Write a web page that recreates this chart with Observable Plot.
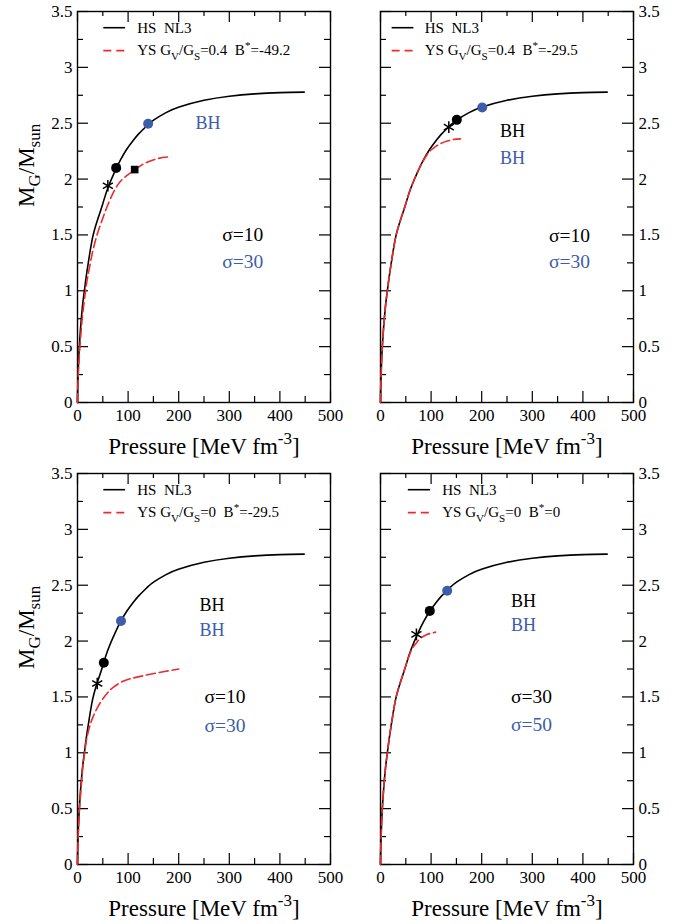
<!DOCTYPE html>
<html><head><meta charset="utf-8">
<script src="https://cdn.jsdelivr.net/npm/d3@7"></script>
<script src="https://cdn.jsdelivr.net/npm/@observablehq/plot@0.6"></script>
<style>
body{margin:0;background:#fff;}
#wrap{position:relative;width:689px;height:924px;overflow:hidden;background:#fff;}
#wrap svg{position:absolute;overflow:visible;background:transparent;font-family:"Liberation Serif","Times New Roman",serif !important;}
#wrap svg text{white-space:pre;font-family:"Liberation Serif","Times New Roman",serif !important;}
</style></head><body><div id="wrap"></div>
<script>
const BLUE = "#3d5ca9", RED = "#ee2b2b";
const xTicks = [0,100,200,300,400,500];
const xMinor = [50,150,250,350,450];
const yTicks = [0,0.5,1,1.5,2,2.5,3,3.5];
const yMinor = [0.25,0.75,1.25,1.75,2.25,2.75,3.25];
const xTickLabels = ["0","100","200","300","400","500"];
const yTickLabels = ["0","0.5","1","1.5","2","2.5","3","3.5"];
const xTitle = "Pressure [MeV fm^{-3}]";
const yTitle = "M_{G}/M_{sun}";
const hsLabel = "HS  NL3";

// HS NL3 (same in all panels)
const hsP = [0,0.5,1,2,3,5,7,10,13,17,22,30,40,50,60,75,86,97,110,120,132,140,151,175,201,250,300,350,400,448];
const hsM = [0,0.14,0.22,0.35,0.45,0.6,0.72,0.87,0.98,1.12,1.27,1.48,1.64,1.78,1.92,2.08,2.18,2.265,2.345,2.4,2.455,2.49,2.53,2.595,2.645,2.705,2.742,2.763,2.774,2.778];

// YS curves
const ysTL_P = [0,1,2,4,7,10,15,20,30,40,50,60,72,85,100,111,125,140,160,184];
const ysTL_M = [0,0.18,0.3,0.45,0.63,0.78,0.97,1.12,1.35,1.52,1.65,1.77,1.89,1.98,2.04,2.075,2.12,2.155,2.185,2.2];
const ysTR_P = [0,0.5,1,2,3,5,7,10,13,17,22,30,40,50,60,75,86,93,100,110,120,132,145,158];
const ysTR_M = [0,0.14,0.22,0.35,0.45,0.6,0.72,0.87,0.98,1.12,1.27,1.48,1.64,1.78,1.92,2.08,2.175,2.225,2.26,2.295,2.32,2.34,2.355,2.36];
const ysBL_P = [0,1,2,4,7,10,12.5,18,25.7,32,38.9,48.8,60,71.8,90,111,130,151,175,200];
const ysBL_M = [0,0.2,0.33,0.5,0.68,0.85,0.95,1.12,1.26,1.335,1.4,1.475,1.54,1.59,1.64,1.67,1.69,1.71,1.73,1.75];
const ysBR_P = [0,0.5,1,2,3,5,7,10,13,17,22,30,40,50,60,66,72,79,90,100,108.7];
const ysBR_M = [0,0.14,0.22,0.35,0.45,0.6,0.72,0.87,0.98,1.12,1.27,1.48,1.64,1.78,1.91,1.955,1.99,2.025,2.055,2.07,2.08];

const ysLabels = ["YS G_{V}/G_{S}=0.4  B^{*}=-49.2","YS G_{V}/G_{S}=0.4  B^{*}=-29.5","YS G_{V}/G_{S}=0  B^{*}=-29.5","YS G_{V}/G_{S}=0  B^{*}=0"];

// markers [P, M]
const starPts  = [[60,1.94],[135,2.465],[39,1.62],[71,2.06]];
const blackPts = [[76.4,2.10],[150.8,2.53],[52,1.806],[97.4,2.27]];
const bluePts  = [[139.6,2.495],[201,2.64],[86,2.18],[131.8,2.45]];
const squarePts = [[[113,2.085]],[],[],[]];

// annotations [P, M, text, isBlue]
const notes = [
  [[233,2.5,"BH",1],[286,1.5,"σ=10",0],[286,1.256,"σ=30",1]],
  [[236,2.43,"BH",0],[236,2.19,"BH",1],[333,1.49,"σ=10",0],[333,1.256,"σ=30",1]],
  [[241,2.32,"BH",0],[241,2.10,"BH",1],[251,1.50,"σ=10",0],[251,1.24,"σ=30",1]],
  [[258,2.36,"BH",0],[258,2.14,"BH",1],[258,1.50,"σ=30",0],[258,1.25,"σ=50",1]]
];
// legend sample extents [x1, x2, textX], rows at M
const legendX = [[52,95,118],[23,66,87.5],[52,95,118],[55,99,122]];
const legendY = [3.355, 3.15];

const zip = (P, M) => P.map((p, i) => ({P: p, M: M[i]}));
const hs = zip(hsP, hsM);
const ys = [zip(ysTL_P, ysTL_M), zip(ysTR_P, ysTR_M), zip(ysBL_P, ysBL_M), zip(ysBR_P, ysBR_M)];

const boxes = [
  // left, top, W, H, mL, mR, mT, mB, yAnchor
  [0, 0, 345, 460, 77, 15, 11, 58, "left"],
  [340, 0, 349, 460, 40, 56, 11, 58, "right"],
  [0, 460, 345, 462, 77, 15, 13, 58, "left"],
  [340, 460, 349, 462, 40, 56, 13, 58, "right"]
];
const FONT = "Liberation Serif, Times New Roman, serif";

function rich(svg) {
  svg.querySelectorAll("text").forEach(t => {
    t.setAttribute("font-family", FONT);
    const s = t.textContent;
    if (!/[_^]\{/.test(s)) return;
    const fs = parseFloat(getComputedStyle(t).fontSize);
    while (t.firstChild) t.removeChild(t.firstChild);
    const re = /([_^])\{([^}]*)\}/g;
    let last = 0, m, shift = 0;
    const add = (str, target) => {
      if (!str) return;
      const ts = document.createElementNS("http://www.w3.org/2000/svg", "tspan");
      const d = target - shift;
      if (d) ts.setAttribute("dy", d);
      if (target !== 0) ts.setAttribute("font-size", fs * 0.74);
      ts.textContent = str;
      t.appendChild(ts);
      shift = target;
    };
    while ((m = re.exec(s))) {
      add(s.slice(last, m.index), 0);
      add(m[2], m[1] === "_" ? fs * 0.3 : -fs * 0.42);
      last = re.lastIndex;
    }
    add(s.slice(last), 0);
  });
}

const wrap = document.getElementById("wrap");
boxes.forEach((b, i) => {
  const [left, top, W, H, mL, mR, mT, mB, yAnchor] = b;
  const fw = W - mL - mR, fh = H - mT - mB;
  const tk = {stroke: "black", strokeWidth: 1.2};
  const [lx1, lx2, ltx] = legendX[i];
  const marks = [
    Plot.tickX(xTicks, {x: d => d, insetTop: fh - 11, ...tk}),
    Plot.tickX(xTicks, {x: d => d, insetBottom: fh - 11, ...tk}),
    Plot.tickX(xMinor, {x: d => d, insetTop: fh - 6, ...tk}),
    Plot.tickX(xMinor, {x: d => d, insetBottom: fh - 5, ...tk}),
    Plot.tickY(yTicks, {y: d => d, insetRight: fw - 11, ...tk}),
    Plot.tickY(yTicks, {y: d => d, insetLeft: fw - 11, ...tk}),
    Plot.tickY(yMinor, {y: d => d, insetRight: fw - 6, ...tk}),
    Plot.tickY(yMinor, {y: d => d, insetLeft: fw - 6, ...tk}),
    Plot.frame({stroke: "black", strokeWidth: 1.4}),
    Plot.axisX(xTicks, {anchor: "bottom", tickSize: 0, tickPadding: 6, tickFormat: d => xTickLabels[xTicks.indexOf(d)], label: null, fill: "black", fontFamily: FONT}),
    Plot.axisY(yTicks, {anchor: yAnchor, tickSize: 0, tickPadding: 5, tickFormat: d => yTickLabels[yTicks.indexOf(d)], label: null, fill: "black", fontFamily: FONT}),
    Plot.line(hs, {x: "P", y: "M", stroke: "black", strokeWidth: 1.6, curve: "natural"}),
    Plot.line(ys[i], {x: "P", y: "M", stroke: RED, strokeWidth: 1.6, strokeDasharray: "9,4", curve: "natural"}),
    Plot.dot(squarePts[i], {x: d => d[0], y: d => d[1], symbol: "square", r: 4.3, fill: "black"}),
    Plot.dot([starPts[i]], {x: d => d[0], y: d => d[1], symbol: "asterisk", r: 5.5, stroke: "black", strokeWidth: 1.5}),
    Plot.dot([blackPts[i]], {x: d => d[0], y: d => d[1], r: 5, fill: "black"}),
    Plot.dot([bluePts[i]], {x: d => d[0], y: d => d[1], r: 5, fill: BLUE}),
    ...notes[i].map(n => Plot.text([n], {x: d => d[0], y: d => d[1], text: d => d[2], fill: n[3] ? BLUE : "black", textAnchor: "start", fontSize: n[2] === "BH" ? 18 : 19.5, fontFamily: FONT})),
    Plot.ruleY([legendY[0]], {x1: lx1, x2: lx2, stroke: "black", strokeWidth: 1.6}),
    Plot.ruleY([legendY[1]], {x1: lx1, x2: lx2, stroke: RED, strokeWidth: 1.6, strokeDasharray: "8,5"}),
    Plot.text([hsLabel], {x: ltx, y: legendY[0], text: d => d, textAnchor: "start", fontSize: 15, fill: "black", fontFamily: FONT}),
    Plot.text([ysLabels[i]], {x: ltx, y: legendY[1], text: d => d, textAnchor: "start", fontSize: 15, fill: "black", fontFamily: FONT}),
    Plot.text([xTitle], {frameAnchor: "bottom", dy: 51, lineAnchor: "bottom", text: d => d, fontSize: 23, fill: "black", fontFamily: FONT})
  ];
  if (yAnchor === "left") {
    marks.push(Plot.text([yTitle], {frameAnchor: "left", dx: -44, rotate: -90, lineAnchor: "bottom", text: d => d, fontSize: 23, fill: "black", fontFamily: FONT}));
  }
  const svg = Plot.plot({
    width: W, height: H,
    marginLeft: mL, marginRight: mR, marginTop: mT, marginBottom: mB,
    x: {domain: [0, 500]},
    y: {domain: [0, 3.5]},
    style: {fontSize: "17px", background: "transparent", overflow: "visible", color: "black"},
    marks
  });
  svg.setAttribute("font-family", FONT);
  svg.style.left = left + "px";
  svg.style.top = top + "px";
  wrap.appendChild(svg);
  rich(svg);
});
</script></body></html>
